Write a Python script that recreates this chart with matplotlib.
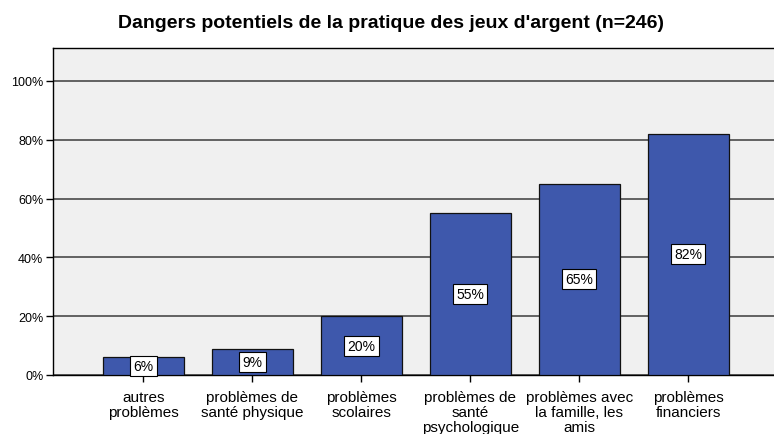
import matplotlib
matplotlib.use("Agg")
import matplotlib.pyplot as plt

categories = ["autres\nproblèmes", "problèmes de\nsanté physique", "problèmes\nscolaires",
              "problèmes de\nsanté\npsychologique", "problèmes avec\nla famille, les\namis",
              "problèmes\nfinanciers"]
values = [6, 9, 20, 55, 65, 82]
yticks = [0, 20, 40, 60, 80, 100]
ytick_labels = ["0%", "20%", "40%", "60%", "80%", "100%"]
title = "Dangers potentiels de la pratique des jeux d'argent (n=246)"

plt.rcParams['font.family'] = ['Liberation Sans', 'DejaVu Sans']

fig = plt.figure(figsize=(7.74, 4.35), dpi=100)
ax = fig.add_axes([53/774, 59/435, 1 - 53/774, (376-49)/435])
ax.set_facecolor("#F0F0F0")
x = list(range(len(categories)))
ax.bar(x, values, width=0.743, color="#3E58AC", edgecolor="#111111", linewidth=0.9, zorder=3)
for xi, v in zip(x, values):
    ax.text(xi, v/2, f"{v}%", ha="center", va="center", fontsize=10, zorder=4,
            bbox=dict(boxstyle="square,pad=0.22", fc="white", ec="black", lw=0.8))
ax.set_ylim(0, 111.2)
ax.set_xlim(-0.83, 5.785)
ax.set_yticks(yticks)
ax.set_yticklabels(ytick_labels, fontsize=9)
ax.set_xticks(x)
ax.set_xticklabels(categories, fontsize=11, linespacing=1.1)
ax.yaxis.grid(True, color="#4a4a4a", linewidth=1.2, zorder=1)
ax.set_axisbelow(True)
ax.tick_params(axis="both", direction="out", length=5, width=1, color="black", pad=2)
ax.tick_params(axis="x", pad=6)
ax.spines["right"].set_visible(False)
for s in ["left", "bottom", "top"]:
    ax.spines[s].set_color("black")
    ax.spines[s].set_linewidth(1)
fig.text(0.505, 0.947, title, ha="center", va="center", fontsize=14, fontweight="bold")
fig.savefig("out.png", dpi=100)
